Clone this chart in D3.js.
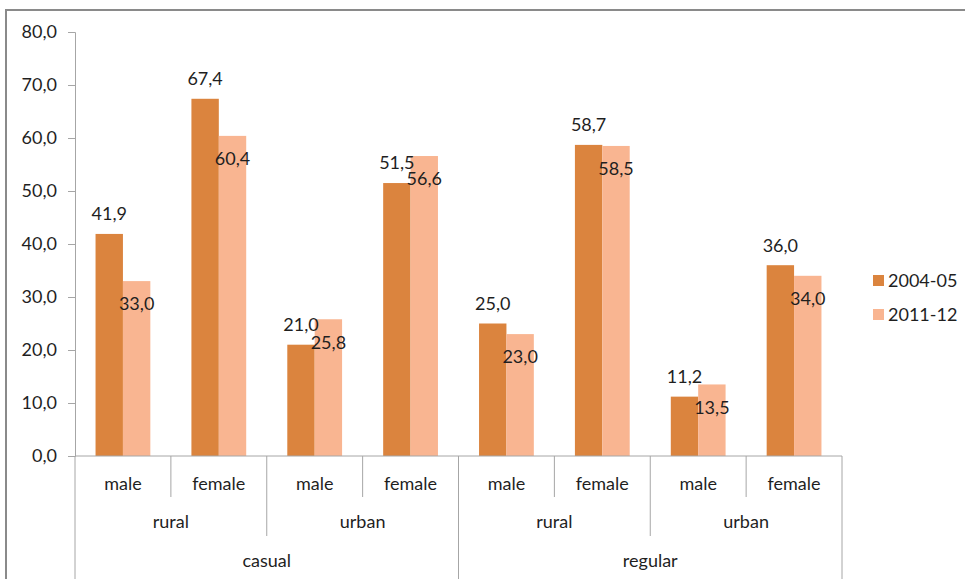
<!DOCTYPE html>
<html>
<head>
<meta charset="utf-8">
<script src="https://cdn.jsdelivr.net/npm/d3@7"></script>
<style>
  html, body { margin: 0; padding: 0; background: #fff; }
  svg { display: block; font-family: Lato, "Open Sans", sans-serif; }
</style>
</head>
<body>
<svg id="chart" width="965" height="579"></svg>
<script>
// Employment type → area → gender, each with two survey rounds
const employment = ["casual", "regular"];
const areas = ["rural", "urban"];
const genders = ["male", "female"];
const seriesNames = ["2004-05", "2011-12"];
const values2004 = [41.9, 67.4, 21.0, 51.5, 25.0, 58.7, 11.2, 36.0];
const values2011 = [33.0, 60.4, 25.8, 56.6, 23.0, 58.5, 13.5, 34.0];
const yTicks = [0, 10, 20, 30, 40, 50, 60, 70, 80];
const colors = ["#DB843E", "#F9B591"];

// Flatten the three-level category hierarchy into 8 leaf categories
const leaves = [];
employment.forEach(e => areas.forEach(a => genders.forEach(g => leaves.push({ e, a, g, key: `${e}|${a}|${g}` }))));
leaves.forEach((d, i) => { d.v = [values2004[i], values2011[i]]; });

const locale = d3.formatLocale({ decimal: ",", thousands: ".", grouping: [3], currency: ["", ""] });
const fmt = locale.format(".1f");

const svg = d3.select("#chart");
const textColor = "#1f1f1f";
const axisColor = "#a6a6a6";
const fontSize = "18px";

// outer frame
svg.append("rect")
  .attr("x", 6).attr("y", 10).attr("width", 1000).attr("height", 620)
  .attr("fill", "none").attr("stroke", "#8a8a8a").attr("stroke-width", 2);

const x0 = 75, x1 = 842, yBase = 456, yTop = 32;
const x = d3.scaleBand().domain(leaves.map(d => d.key)).range([x0, x1]).paddingInner(0).paddingOuter(0);
const y = d3.scaleLinear().domain([0, 80]).range([yBase, yTop]);
// gap width 150% between clusters
const inner = d3.scaleBand().domain([0, 1]).range([0, x.bandwidth()]).paddingOuter(0.75).paddingInner(0);

// y axis
const yAxis = svg.append("g").attr("transform", `translate(${x0},0)`)
  .call(d3.axisLeft(y).tickValues(yTicks).tickSize(7).tickPadding(11).tickFormat(fmt));
yAxis.select(".domain").attr("stroke", axisColor);
yAxis.selectAll(".tick line").attr("stroke", axisColor);
yAxis.selectAll(".tick text").attr("fill", textColor).style("font-size", fontSize).style("font-family", "Lato, sans-serif");

// bars
const groups = svg.append("g").selectAll("g").data(leaves).join("g")
  .attr("transform", d => `translate(${x(d.key)},0)`);
groups.selectAll("rect").data(d => d.v.map((v, i) => ({ v, i }))).join("rect")
  .attr("x", d => inner(d.i))
  .attr("width", inner.bandwidth())
  .attr("y", d => y(d.v))
  .attr("height", d => yBase - y(d.v))
  .attr("fill", d => colors[d.i]);

// value labels: first series above its bar, second series just inside the bar top
groups.selectAll("text").data(d => d.v.map((v, i) => ({ v, i }))).join("text")
  .attr("x", d => inner(d.i) + inner.bandwidth() / 2)
  .attr("y", d => d.i === 0 ? y(d.v) - 20 : y(d.v) + 23)
  .attr("dy", "0.35em")
  .attr("text-anchor", "middle")
  .attr("fill", textColor)
  .style("font-size", fontSize)
  .text(d => fmt(d.v));

// x axis base line
svg.append("line").attr("x1", x0).attr("x2", x1).attr("y1", yBase).attr("y2", yBase)
  .attr("stroke", axisColor);

// hierarchical category axis: separators and labels
const sepG = svg.append("g").attr("stroke", axisColor);
const bw = x.bandwidth();
leaves.forEach((d, i) => {
  const xl = x(d.key);
  let bottom;
  if (i % 4 === 0) bottom = 579;
  else if (i % 2 === 0) bottom = 536;
  else bottom = 497;
  sepG.append("line").attr("x1", xl).attr("x2", xl).attr("y1", yBase).attr("y2", bottom);
});
sepG.append("line").attr("x1", x1).attr("x2", x1).attr("y1", yBase).attr("y2", 579);

const lab = svg.append("g").attr("fill", textColor).style("font-size", fontSize).attr("text-anchor", "middle");
lab.selectAll("text.g").data(leaves).join("text").attr("class", "g")
  .attr("x", d => x(d.key) + bw / 2).attr("y", 484).attr("dy", "0.35em").text(d => d.g);
const areaNodes = [];
employment.forEach((e, ei) => areas.forEach((a, ai) => areaNodes.push({ a, start: (ei * 2 + ai) * 2 })));
lab.selectAll("text.a").data(areaNodes).join("text").attr("class", "a")
  .attr("x", d => x(leaves[d.start].key) + bw).attr("y", 522).attr("dy", "0.35em").text(d => d.a);
lab.selectAll("text.e").data(employment).join("text").attr("class", "e")
  .attr("x", (d, i) => x(leaves[i * 4].key) + 2 * bw).attr("y", 561).attr("dy", "0.35em").text(d => d);

// legend
const leg = svg.append("g").selectAll("g").data(seriesNames).join("g")
  .attr("transform", (d, i) => `translate(873,${275 + i * 34})`);
leg.append("rect").attr("width", 11).attr("height", 11).attr("fill", (d, i) => colors[i]);
leg.append("text").attr("x", 15).attr("y", 5.5).attr("dy", "0.35em")
  .attr("fill", textColor).style("font-size", fontSize).text(d => d);
</script>
</body>
</html>
